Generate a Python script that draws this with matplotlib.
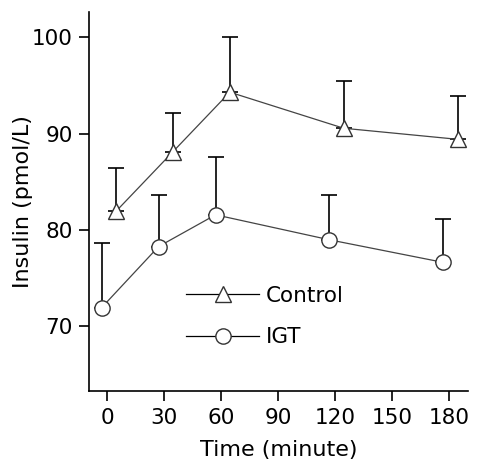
import matplotlib
matplotlib.use("Agg")
import matplotlib.pyplot as plt
import numpy as np

# time points (minutes) and insulin values
time = np.array([0, 30, 60, 120, 180])
control_mean = [81.9, 88.1, 94.3, 90.55, 89.4]
control_err = [4.5, 4.0, 5.7, 4.95, 4.5]
igt_mean = [71.9, 78.25, 81.55, 78.95, 76.6]
igt_err = [6.7, 5.35, 6.05, 4.65, 4.5]

plt.rcParams['font.family'] = 'DejaVu Sans'

fig = plt.figure(figsize=(4.87, 4.76), dpi=100, facecolor='white')
ax = fig.add_axes([0.1834, 0.178, 0.7766, 0.796])

# groups are drawn a little apart so the error bars don't overlap
ax.errorbar(time + 4.5, control_mean, yerr=[np.zeros(5), control_err],
            fmt='none', ecolor='black', elinewidth=1.2, capsize=6, capthick=1.2)
ax.errorbar(time - 3, igt_mean, yerr=[np.zeros(5), igt_err],
            fmt='none', ecolor='black', elinewidth=1.2, capsize=6, capthick=1.2)

ax.plot(time + 4.5, control_mean, color='#444444', linewidth=0.9,
        marker='^', markersize=12, markerfacecolor='white',
        markeredgecolor='#333333', markeredgewidth=1.0, label='Control', zorder=3)
ax.plot(time - 3, igt_mean, color='#444444', linewidth=0.9,
        marker='o', markersize=11, markerfacecolor='white',
        markeredgecolor='#333333', markeredgewidth=1.0, label='IGT', zorder=3)

ax.set_xlim(-9.5, 189.7)
ax.set_ylim(63.2, 102.6)
ax.set_xticks([0, 30, 60, 90, 120, 150, 180])
ax.set_yticks([70, 80, 90, 100])

ax.spines['top'].set_visible(False)
ax.spines['right'].set_visible(False)
ax.spines['left'].set_linewidth(1.2)
ax.spines['bottom'].set_linewidth(1.2)
ax.tick_params(direction='out', length=7, width=1.2, labelsize=15.5, pad=5)

ax.set_xlabel('Time (minute)', fontsize=16, labelpad=9)
ax.set_ylabel('Insulin (pmol/L)', fontsize=16, labelpad=-1)

leg = ax.legend(loc='upper left', bbox_to_anchor=(0.205, 0.33), frameon=False,
                fontsize=15.5, handlelength=3.4, handletextpad=0.3, labelspacing=1.0)
for line in leg.get_lines():
    line.set_color('black')

fig.savefig('out.png', dpi=100, facecolor='white')
